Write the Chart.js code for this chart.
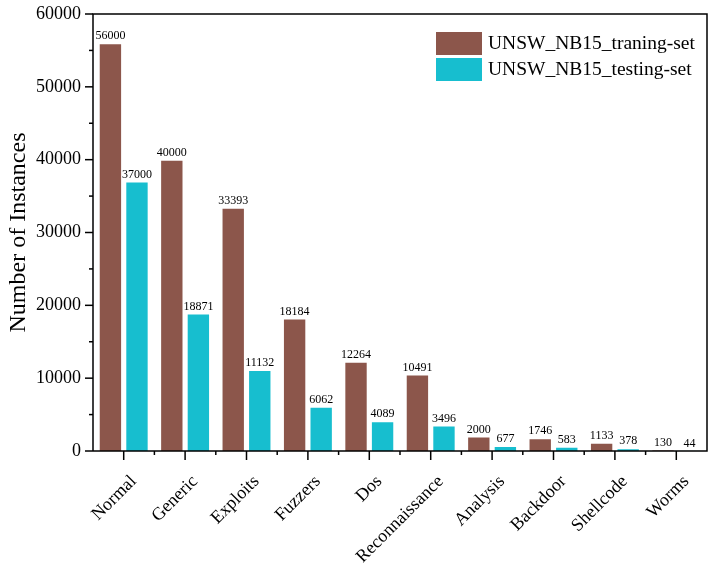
<!DOCTYPE html>
<html>
<head>
<meta charset="utf-8">
<script src="https://cdn.jsdelivr.net/npm/chart.js@4/dist/chart.umd.min.js"></script>
<style>
html,body{margin:0;padding:0;background:#fff;}
#wrap{width:710px;height:570px;}
</style>
</head>
<body>
<div id="wrap"><canvas id="c" width="710" height="570"></canvas></div>
<script>
const categories = ["Normal","Generic","Exploits","Fuzzers","Dos","Reconnaissance","Analysis","Backdoor","Shellcode","Worms"];
const trainingSet = [56000,40000,33393,18184,12264,10491,2000,1746,1133,130];
const testingSet = [37000,18871,11132,6062,4089,3496,677,583,378,44];
const seriesNames = ["UNSW_NB15_traning-set","UNSW_NB15_testing-set"];
const yTicks = [0,10000,20000,30000,40000,50000,60000];

const FONT = "'Liberation Serif','Times New Roman',serif";

const decorPlugin = {
  id: 'decor',
  afterDraw(chart) {
    const ctx = chart.ctx;
    const a = chart.chartArea;
    const y = chart.scales.y, x = chart.scales.x;
    ctx.save();
    ctx.strokeStyle = '#000';
    ctx.lineWidth = 1.5;
    ctx.beginPath();
    ctx.moveTo(a.left, a.bottom); ctx.lineTo(a.left, a.top); ctx.lineTo(a.right, a.top); ctx.lineTo(a.right, a.bottom); ctx.lineTo(a.left, a.bottom);
    ctx.stroke();
    for (let v = 0; v <= 60000; v += 5000) {
      const py = y.getPixelForValue(v);
      const len = (v % 10000 === 0) ? 8 : 4;
      ctx.beginPath(); ctx.moveTo(a.left - len, py); ctx.lineTo(a.left, py); ctx.stroke();
    }
    const n = categories.length;
    const w = (a.right - a.left) / n;
    for (let i = 0; i < n; i++) {
      const px = x.getPixelForValue(i);
      ctx.beginPath(); ctx.moveTo(px, a.bottom); ctx.lineTo(px, a.bottom + 9); ctx.stroke();
    }
    for (let i = 1; i < n; i++) {
      const px = a.left + w * i;
      ctx.beginPath(); ctx.moveTo(px, a.bottom); ctx.lineTo(px, a.bottom + 4); ctx.stroke();
    }
    ctx.fillStyle = '#000';
    ctx.font = '12px ' + FONT;
    ctx.textAlign = 'center';
    ctx.textBaseline = 'bottom';
    chart.data.datasets.forEach((ds, di) => {
      const meta = chart.getDatasetMeta(di);
      meta.data.forEach((bar, i) => {
        ctx.fillText(String(ds.data[i]), bar.x, bar.y - 1);
      });
    });
    ctx.font = '19.5px ' + FONT;
    ctx.textAlign = 'left';
    ctx.textBaseline = 'middle';
    chart.data.datasets.forEach((ds, di) => {
      const bx = 436, by = 32 + di * 26;
      ctx.fillStyle = ds.backgroundColor;
      ctx.fillRect(bx, by, 46, 23);
      ctx.fillStyle = '#000';
      ctx.fillText(ds.label, 488, by + 12);
    });
    ctx.restore();
  }
};

new Chart(document.getElementById('c'), {
  type: 'bar',
  data: {
    labels: categories,
    datasets: [
      { label: seriesNames[0], data: trainingSet, backgroundColor: '#8c564b', borderColor: 'rgba(255,255,255,0.5)', borderWidth: 1 },
      { label: seriesNames[1], data: testingSet, backgroundColor: '#17becf', borderColor: 'rgba(255,255,255,0.5)', borderWidth: 1 }
    ]
  },
  options: {
    responsive: false,
    animation: false,
    devicePixelRatio: 1,
    layout: { padding: { top: 14, right: 3, left: 0, bottom: 0 } },
    plugins: { legend: { display: false }, tooltip: { enabled: false } },
    datasets: { bar: { categoryPercentage: 0.865, barPercentage: 0.88 } },
    scales: {
      x: {
        grid: { display: false, drawTicks: false },
        border: { display: false },
        ticks: { color: '#000', font: { family: FONT, size: 18 }, minRotation: 45, maxRotation: 45, padding: 20, labelOffset: 10, autoSkip: false },
        afterFit(s) { s.height = 119; s.paddingLeft = 0; s.paddingRight = 0; }
      },
      y: {
        min: 0, max: 60000,
        grid: { display: false, drawTicks: false },
        border: { display: false },
        afterBuildTicks(s) { s.ticks = yTicks.map(v => ({ value: v })); },
        ticks: { color: '#000', font: { family: FONT, size: 18 }, padding: 12, callback: v => String(v) },
        title: { display: true, text: 'Number of Instances', color: '#000', font: { family: FONT, size: 24 }, padding: { top: 4, bottom: 0 } },
        afterFit(s) { s.width = 93; s.paddingTop = 0; s.paddingBottom = 0; }
      }
    }
  },
  plugins: [decorPlugin]
});
</script>
</body>
</html>
